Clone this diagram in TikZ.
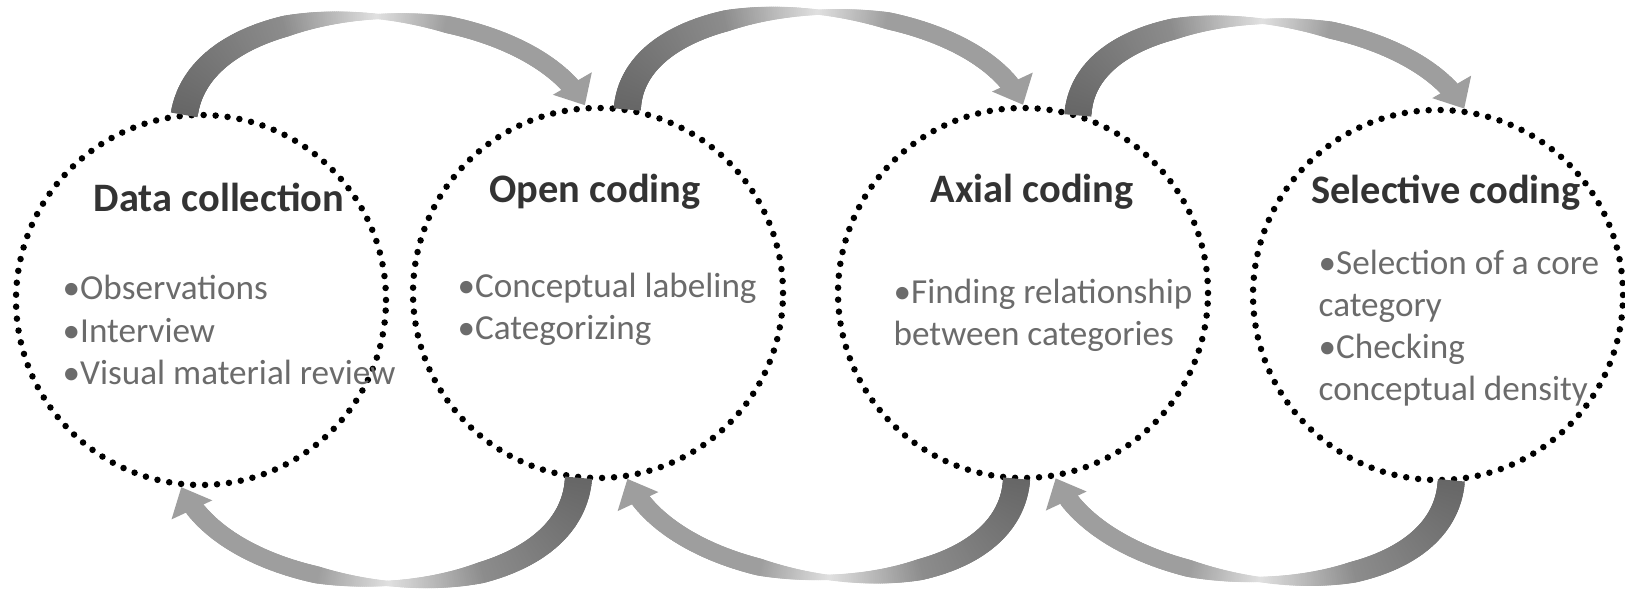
\documentclass[tikz,border=0pt]{standalone}
\usepackage{fontspec}
\setmainfont{Carlito}
\usetikzlibrary{decorations.markings}

\definecolor{headtext}{HTML}{333333}
\definecolor{bodytext}{HTML}{6B6B6B}

% one slice of a fading arrow band at fraction #1 of the path:
% thick and dark at the tail, thin and pale half way, mid grey at the head
\newcommand{\flowpiece}[1]{%
  \pgfmathsetmacro\fwid{#1<0.3 ? 0.135-0.1*#1 : (#1<0.5 ? 0.105-0.4*(#1-0.3) : (#1<0.65 ? 0.025+0.4*(#1-0.5) : 0.085+0.03*(#1-0.65)))}%
  \pgfmathsetmacro\fshd{#1<0.3 ? 60-50*#1 : (#1<0.5 ? 45-165*(#1-0.3) : (#1<0.65 ? 12+173*(#1-0.5) : 38))}%
  \fill[black!\fshd] (-0.7pt,-\fwid cm) rectangle (0.7pt,\fwid cm);}
\newcommand{\flowhead}{%
  \fill[black!38] (0,0) -- (-0.25cm,0.225cm) -- (-0.25cm,-0.225cm) -- cycle;}
% a whole fading arrow along the path #1
\newcommand{\flowarc}[1]{%
  \foreach \p in {0,0.004,...,0.948}
    \path[decoration={markings, mark=at position \p with {\flowpiece{\p}}}, decorate] #1;
  \path[decoration={markings, mark=at position 0.9999 with {\flowhead}}, decorate] #1;}

\begin{document}
\begin{tikzpicture}[
    stage/.style={circle, draw=black, line width=0.065cm, line cap=round,
      dash pattern=on 0pt off 0.12cm, minimum size=3.7cm, inner sep=0pt},
    heading/.style={font=\fontsize{11.5}{13}\selectfont\bfseries, text=headtext},
    items/.style={font=\fontsize{10}{12}\selectfont, text=bodytext,
      align=left, anchor=west, inner sep=0pt}
  ]
  \useasboundingbox (0,0) rectangle (16.25,5.9);

  % stages
  \node[stage] (c1) at (2.01, 2.90) {};
  \node[stage] (c2) at (5.98, 2.97) {};
  \node[stage] (c3) at (10.23, 2.97) {};
  \node[stage] (c4) at (14.38, 2.95) {};

  \node[heading] (t1) at (2.19, 3.93) {Data collection};
  \node[heading] (t2) at (5.95, 3.98) {Open coding};
  \node[heading] (t3) at (10.32, 3.98) {Axial coding};
  \node[heading] (t4) at (14.46, 3.97) {Selective coding};

  \node[items] (b1) at (0.62, 2.60) {•Observations\\•Interview\\•Visual material review};
  \node[items] (b2) at (4.57, 2.81) {•Conceptual labeling\\•Categorizing};
  \node[items] (b3) at (8.93, 2.745) {•Finding relationship\\between categories};
  \node[items] (b4) at (13.18, 2.62) {•Selection of a core\\category\\•Checking\\conceptual density};

  % forward arrows over the top
  \flowarc{(c1.95) to[out=80, in=120, looseness=0.85] (c2.94)}
  \flowarc{(c2.81) to[out=85, in=115, looseness=0.85] (c3.90)}
  \flowarc{(c3.73) to[out=85, in=120, looseness=0.85] (c4.82)}

  % backward arrows underneath
  \flowarc{(c2.264) to[out=265, in=295, looseness=0.9] (c1.264)}
  \flowarc{(c3.268) to[out=265, in=295, looseness=0.9] (c2.279)}
  \flowarc{(c4.274) to[out=265, in=295, looseness=0.9] (c3.280)}
\end{tikzpicture}
\end{document}
